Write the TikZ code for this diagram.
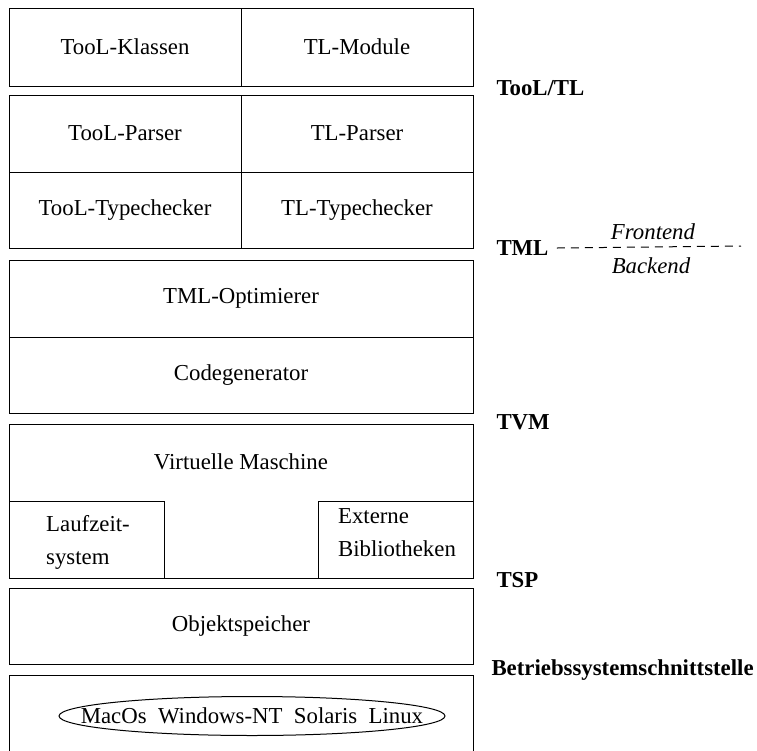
\documentclass[tikz,border=0pt]{standalone}
\usepackage{fontspec}
\setmainfont{Liberation Serif}
\usetikzlibrary{positioning}
\newcommand{\txtsize}{\fontsize{11.4pt}{16.5pt}\selectfont}
\begin{document}
\begin{tikzpicture}[x=0.5pt,y=-0.5pt,line width=0.5pt,
		cell/.style={draw, minimum width=116pt, minimum height=#1, inner sep=0pt, outer sep=0pt, font=\txtsize},
		wide/.style={cell=#1, minimum width=232pt},
		small/.style={draw, minimum width=77.5pt, minimum height=38.5pt, inner sep=0pt, outer sep=0pt},
		side/.style={anchor=west, inner sep=0pt, font=\txtsize\bfseries},
		plain/.style={inner sep=0pt, font=\txtsize, align=left}]
		\useasboundingbox (0,0) rectangle (757,751);

		% TooL / TL
		\draw (125,47) node[cell=39pt] (klassen) {TooL-Klassen};
		\draw (357,47) node[cell=39pt] (module) {TL-Module};
		\draw (125,133.5) node[cell=38.5pt] (toolparser) {TooL-Parser};
		\draw (357,133.5) node[cell=38.5pt] (tlparser) {TL-Parser};
		\draw (125,210) node[cell=38pt] (toolcheck) {TooL-Typechecker};
		\draw (357,210) node[cell=38pt] (tlcheck) {TL-Typechecker};

		% TML
		\draw (241,298.5) node[wide=38.5pt] (optimierer) {TML-Optimierer};
		\draw (241,375) node[wide=38pt] (codegen) {Codegenerator};

		% TVM
		\draw (241,501) node[wide=77pt] (tvmbox) {};
		\draw (241,462) node[plain] (vm) {Virtuelle Maschine};
		\draw (86.5,539.5) node[small] (laufzeit) {};
		\draw (395.5,539.5) node[small] (extern) {};
		\draw (88,542) node[plain] (laufzeittxt) {Laufzeit-\\system};
		\draw (397,533) node[plain] (externtxt) {Externe\\Bibliotheken};

		% TSP
		\draw (241,626) node[wide=38pt] (speicher) {Objektspeicher};

		% Betriebssystem
		\draw (9,751) -- (9,675) -- (473,675) -- (473,751);
		\draw (252,716) node[plain] (systeme) {MacOs~~Windows-NT~~Solaris~~Linux};
		\draw (systeme.center) ellipse (193 and 19.5);

		% Schichten
		\draw (496,88) node[side] (tooltl) {TooL/TL};
		\draw (496,248) node[side] (tml) {TML};
		\draw (496,422) node[side] (tvm) {TVM};
		\draw (496,580) node[side] (tsp) {TSP};
		\draw (491,670) node[side] (bss) {Betriebssystemschnittstelle};

		\coordinate (dashend) at (741,246);
		\draw [dash pattern=on 4pt off 3pt] ([xshift=4pt]tml.east) -- (dashend);
		\draw (653,232) node[plain, font=\txtsize\itshape] (frontend) {Frontend};
		\draw (651,266) node[plain, font=\txtsize\itshape] (backend) {Backend};
	\end{tikzpicture}
\end{document}
